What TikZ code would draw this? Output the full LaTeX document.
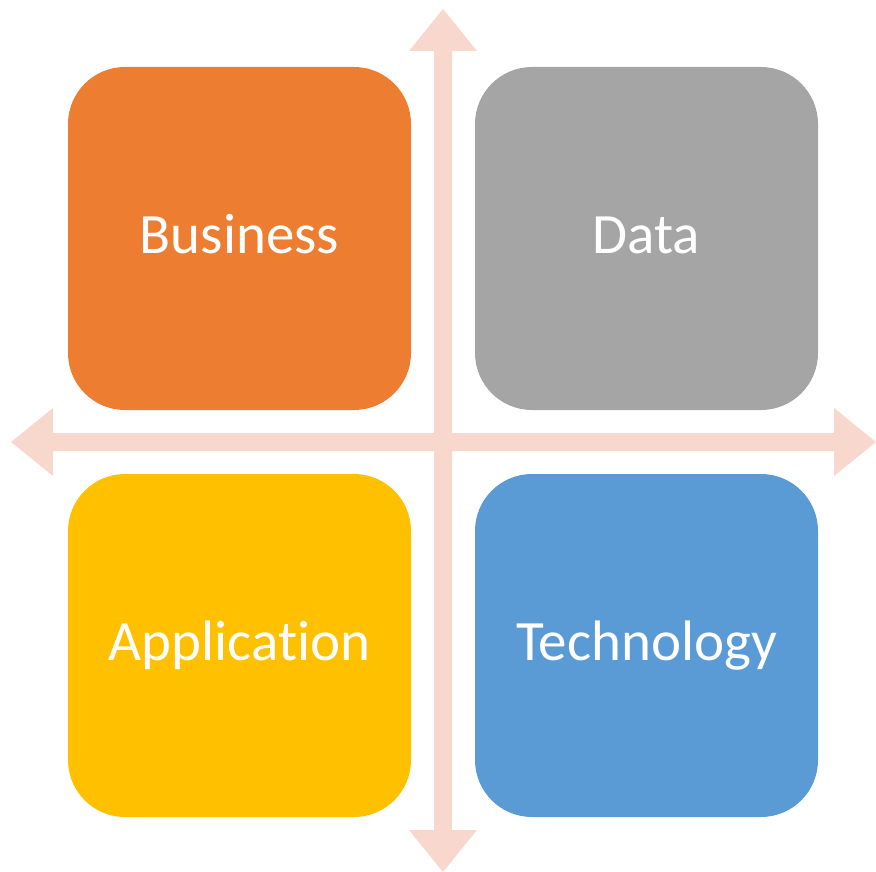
\documentclass[tikz,border=0pt]{standalone}
\usepackage{fontspec}
\setmainfont{Carlito}[Ligatures=NoCommon]
\definecolor{cOrange}{HTML}{ED7D31}
\definecolor{cGray}{HTML}{A5A5A5}
\definecolor{cYellow}{HTML}{FFC000}
\definecolor{cBlue}{HTML}{5B9BD5}
\definecolor{cArrow}{HTML}{F8D7CD}
\tikzset{
  quad/.style={rounded corners=57pt, minimum width=343pt, minimum height=343pt, inner sep=0pt, draw=none},
  lbl/.style={anchor=base, text=white, font=\fontsize{57}{68}\selectfont, inner sep=0pt},
  arrowfill/.style={fill=cArrow, draw=none}
}
\begin{document}
\begin{tikzpicture}[x=1pt,y=-1pt]
\useasboundingbox (0,0) rectangle (876,872);
% vertical double arrow
\fill[arrowfill] (443,9) -- (477,51) -- (452,51) -- (452,830) -- (477,830) -- (443,872)
  -- (409,830) -- (434,830) -- (434,51) -- (409,51) -- cycle;
% horizontal double arrow
\fill[arrowfill] (11,442) -- (53,408) -- (53,433) -- (834,433) -- (834,408) -- (876,442)
  -- (834,476) -- (834,451) -- (53,451) -- (53,476) -- cycle;
% quadrants
\node[quad, fill=cOrange] (business) at (239.5,238.5) {};
\node[quad, fill=cGray] (data) at (646.5,238.5) {};
\node[quad, fill=cYellow] (application) at (239.5,645.5) {};
\node[quad, fill=cBlue] (technology) at (646.5,645.5) {};
\node[lbl] (tbusiness) at ([yshift=-15pt]business.center) {Business};
\node[lbl] (tdata) at ([yshift=-15pt]data.center) {Data};
\node[lbl] (tapplication) at ([yshift=-15pt]application.center) {Application};
\node[lbl] (ttechnology) at ([yshift=-15pt]technology.center) {Technology};
\end{tikzpicture}
\end{document}
